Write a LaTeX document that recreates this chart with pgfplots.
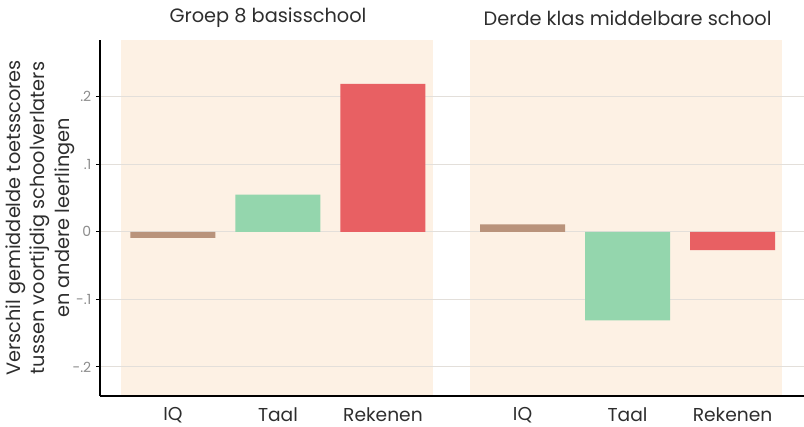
\documentclass[border=0pt]{standalone}
\usepackage{fontspec}
\setmainfont{Poppins}
\usepackage{pgfplots}
\pgfplotsset{compat=1.18}

\definecolor{barbrown}{HTML}{B9937B}
\definecolor{bargreen}{HTML}{94D6AD}
\definecolor{barred}{HTML}{E86063}
\definecolor{bgpeach}{HTML}{FDF1E4}
\definecolor{gridgray}{HTML}{E3DFDA}
\definecolor{ticktext}{HTML}{8C8C8C}
\definecolor{darktext}{HTML}{2E2E2E}

\begin{document}
\begin{tikzpicture}
\begin{axis}[
    at={(0,0)}, anchor=south west,
    scale only axis,
    width=528pt, height=267pt,
    set layers=standard,
    clip=false,
    ybar, bar width=0.81, bar shift=0pt,
    xmin=0.305, xmax=7.01,
    ymin=-0.243, ymax=0.284,
    axis x line*=bottom, axis y line*=left,
    axis line style={line width=1.6pt, black},
    xtick={1,2,3,4.33,5.33,6.33},
    xticklabels={IQ,Taal,Rekenen,IQ,Taal,Rekenen},
    major x tick style={draw=none},
    x tick label style={font=\fontsize{14}{16}\selectfont, text=darktext, yshift=-2pt},
    ytick={-0.2,-0.1,0,0.1,0.2},
    yticklabels={-.2,-.1,0,.1,.2},
    y tick label style={font=\fontsize{10.5}{12}\selectfont, text=ticktext},
    major y tick style={black, line width=0.8pt},
    tick align=outside, major tick length=3pt,
    ymajorgrids, grid style={gridgray, line width=0.8pt},
]
\begin{pgfonlayer}{axis background}
\fill[bgpeach] (axis cs:0.505,-0.243) rectangle (axis cs:3.476,0.284);
\fill[bgpeach] (axis cs:3.829,-0.243) rectangle (axis cs:6.8,0.284);
\end{pgfonlayer}

% IQ
\addplot[fill=barbrown, draw=none] coordinates {(1,-0.009) (4.33,0.011)};
% Taal
\addplot[fill=bargreen, draw=none] coordinates {(2,0.055) (5.33,-0.131)};
% Rekenen
\addplot[fill=barred, draw=none] coordinates {(3,0.219) (6.33,-0.027)};

\node[font=\fontsize{14.5}{16}\selectfont, text=darktext] at ([yshift=16.5pt]axis cs:1.905,0.284) {Groep 8 basisschool};
\node[font=\fontsize{14.5}{16}\selectfont, text=darktext] at ([yshift=16.5pt]axis cs:5.33,0.284) {Derde klas middelbare school};
\node[rotate=90, align=center, font=\fontsize{14.5}{17}\selectfont, text=darktext]
  at ([xshift=-45pt]rel axis cs:0,0.5)
  {Verschil gemiddelde toetsscores\\[1.5pt]tussen voortijdig schoolverlaters\\[1.5pt]en andere leerlingen};
\end{axis}
\pgfresetboundingbox
\path (-75pt,-23.25pt) rectangle (528pt,297pt);
\end{tikzpicture}
\end{document}
